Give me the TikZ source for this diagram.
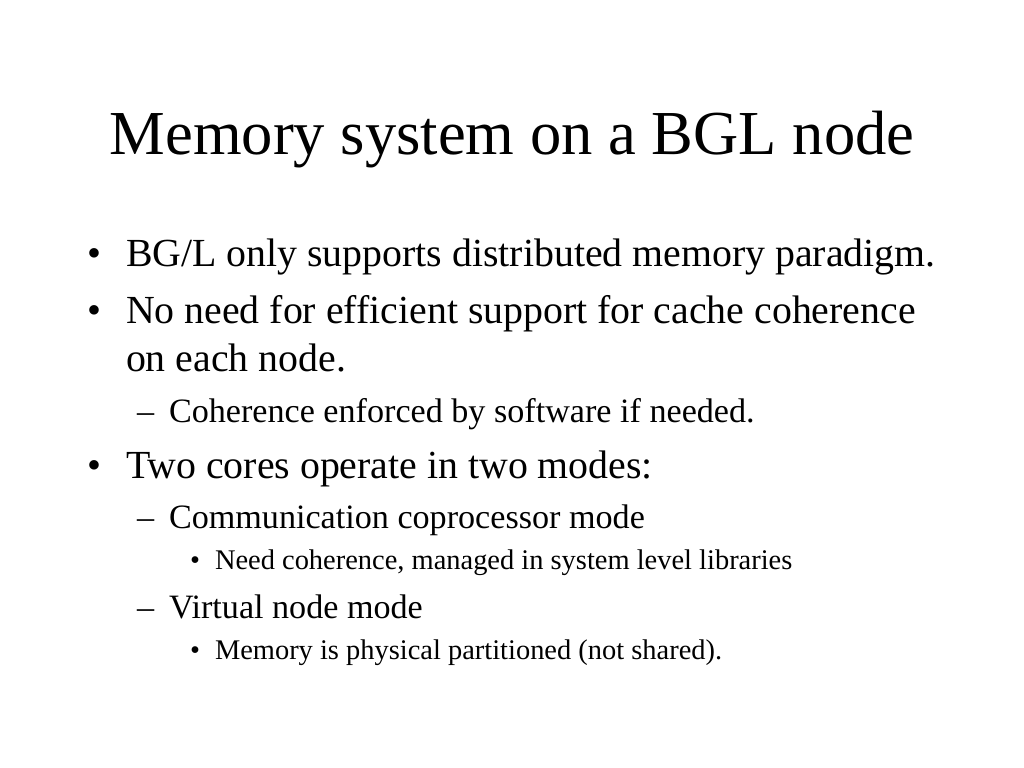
\documentclass[tikz,border=0pt]{standalone}
\usepackage{fontspec}
\setmainfont{Liberation Serif}
\begin{document}
\begin{tikzpicture}[x=0.703125pt, y=-0.703125pt,
  every node/.style={inner sep=0pt, outer sep=0pt, text=black},
  titletext/.style={anchor=base, font=\fontsize{44}{50}\selectfont},
  lvlA/.style={anchor=base west, font=\fontsize{28}{34}\selectfont},
  lvlB/.style={anchor=base west, font=\fontsize{24}{29}\selectfont},
  lvlC/.style={anchor=base west, font=\fontsize{20}{24}\selectfont}]
\fill[white] (0,0) rectangle (1024,768);
\useasboundingbox (0,0) rectangle (1024,768);

\node[titletext] (title) at (512,155) {Memory system on a BGL node};

\node[lvlA] (b1) at (87,267) {•};
\node[lvlA] (t1) at (126,267) {BG/L only supports distributed memory paradigm.};
\node[lvlA] (b2) at (87,323) {•};
\node[lvlA] (t2) at (126,323) {No need for efficient support for cache coherence};
\node[lvlA] (t2b) at (126,371) {on each node.};
\node[lvlB] (d1) at (137,422) {–};
\node[lvlB] (s1) at (169,422) {Coherence enforced by software if needed.};
\node[lvlA] (b3) at (87,478) {•};
\node[lvlA] (t3) at (126,478) {Two cores operate in two modes:};
\node[lvlB] (d2) at (137,528) {–};
\node[lvlB] (s2) at (169,528) {Communication coprocessor mode};
\node[lvlC] (c1) at (190,569) {•};
\node[lvlC] (u1) at (215,569) {Need coherence, managed in system level libraries};
\node[lvlB] (d3) at (137,618) {–};
\node[lvlB] (s3) at (169,618) {Virtual node mode};
\node[lvlC] (c2) at (190,659) {•};
\node[lvlC] (u2) at (215,659) {Memory is physical partitioned (not shared).};
\end{tikzpicture}
\end{document}
